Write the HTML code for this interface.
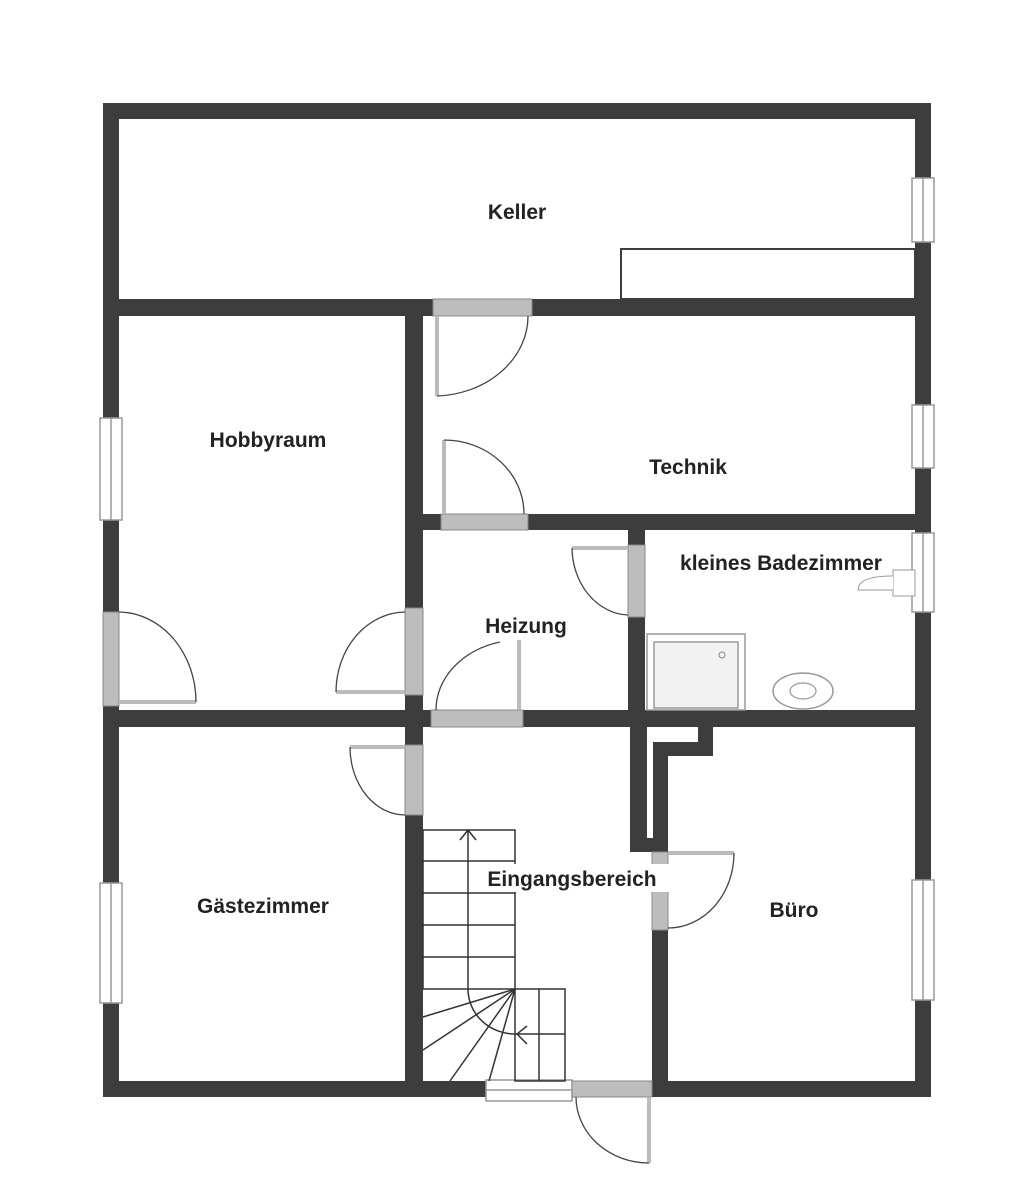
<!DOCTYPE html>
<html><head><meta charset="utf-8"><style>
html,body{margin:0;padding:0;background:#fff;}
svg{display:block;}
text{font-family:"Liberation Sans",sans-serif;font-size:21px;fill:#222;font-weight:bold;}
</style></head><body>
<svg width="1034" height="1200" viewBox="0 0 1034 1200" xmlns="http://www.w3.org/2000/svg">
<g fill="#3d3d3d">
<rect x="103" y="103" width="828" height="16"/>
<rect x="103" y="103" width="16" height="994"/>
<rect x="915" y="103" width="16" height="994"/>
<rect x="103" y="1081" width="828" height="16"/>
<rect x="103" y="299" width="828" height="17"/>
<rect x="405" y="299" width="18" height="798"/>
<rect x="405" y="514" width="526" height="16"/>
<rect x="628" y="514" width="17" height="213"/>
<rect x="103" y="710" width="828" height="17"/>
<rect x="630" y="720" width="17" height="132"/>
<rect x="630" y="838" width="38" height="14"/>
<rect x="653" y="742" width="15" height="110"/>
<rect x="653" y="742" width="60" height="14"/>
<rect x="698" y="720" width="15" height="36"/>
<rect x="652" y="838" width="16" height="259"/>
</g>
<rect x="621" y="249" width="294" height="50" fill="#fff" stroke="#3d3d3d" stroke-width="2"/>
<g fill="#fff" stroke="#999" stroke-width="1.5">
<rect x="912" y="178" width="22" height="64"/><line x1="923" y1="178" x2="923" y2="242"/>
<rect x="912" y="405" width="22" height="63"/><line x1="923" y1="405" x2="923" y2="468"/>
<rect x="912" y="533" width="22" height="79"/><line x1="923" y1="533" x2="923" y2="612"/>
<rect x="912" y="880" width="22" height="120"/><line x1="923" y1="880" x2="923" y2="1000"/>
<rect x="100" y="418" width="22" height="102"/><line x1="111" y1="418" x2="111" y2="520"/>
<rect x="100" y="883" width="22" height="120"/><line x1="111" y1="883" x2="111" y2="1003"/>
<rect x="486" y="1080" width="86" height="21"/><line x1="486" y1="1090" x2="572" y2="1090"/>
</g>
<g fill="#bdbdbd" stroke="#888" stroke-width="1">
<rect x="433" y="299" width="99" height="17"/>
<rect x="441" y="514" width="87" height="16"/>
<rect x="628" y="545" width="17" height="72"/>
<rect x="103" y="612" width="16" height="94"/>
<rect x="405" y="608" width="18" height="87"/>
<rect x="431" y="710" width="92" height="17"/>
<rect x="405" y="745" width="18" height="70"/>
<rect x="652" y="852" width="16" height="78"/>
<rect x="572" y="1081" width="80" height="16"/>
</g>
<g fill="none" stroke="#bbb" stroke-width="4">
<line x1="437" y1="316" x2="437" y2="396"/>
<line x1="444" y1="440" x2="444" y2="514"/>
<line x1="572" y1="548" x2="628" y2="548"/>
<line x1="119" y1="702" x2="196" y2="702"/>
<line x1="336" y1="692" x2="405" y2="692"/>
<line x1="519" y1="640" x2="519" y2="710"/>
<line x1="350" y1="747" x2="405" y2="747"/>
<line x1="668" y1="853" x2="734" y2="853"/>
<line x1="649" y1="1097" x2="649" y2="1163"/>
</g>
<g fill="none" stroke="#444" stroke-width="1.3">
<path d="M437 396 A95 80 0 0 0 528 316"/>
<path d="M444 440 A80 74 0 0 1 524 514"/>
<path d="M572 548 A58 68 0 0 0 628 615"/>
<path d="M119 612 A78 90 0 0 1 196 702"/>
<path d="M405 612 A70 80 0 0 0 336 692"/>
<path d="M436 710 A85 70 0 0 1 500 642"/>
<path d="M350 747 A55 68 0 0 0 405 815"/>
<path d="M734 853 A66 75 0 0 1 668 928"/>
<path d="M576 1097 A73 66 0 0 0 649 1163"/>
</g>
<g fill="none" stroke="#333" stroke-width="1.5">
<rect x="423" y="830" width="92" height="159"/>
<line x1="423" y1="861" x2="515" y2="861"/>
<line x1="423" y1="893" x2="515" y2="893"/>
<line x1="423" y1="925" x2="515" y2="925"/>
<line x1="423" y1="957" x2="515" y2="957"/>
<rect x="515" y="989" width="50" height="92"/>
<line x1="539" y1="989" x2="539" y2="1081"/>
<line x1="515" y1="1034" x2="565" y2="1034"/>
<line x1="468" y1="830" x2="468" y2="989"/>
<polyline points="460,840 468,830 476,840"/>
<line x1="515" y1="989" x2="423" y2="1017"/>
<line x1="515" y1="989" x2="423" y2="1050"/>
<line x1="515" y1="989" x2="450" y2="1081"/>
<line x1="515" y1="989" x2="489" y2="1081"/>
<path d="M468 989 A47 45 0 0 0 515 1034"/>
<polyline points="527,1026 517,1034 527,1044"/>
</g>
<rect x="647" y="634" width="98" height="76" fill="#fff" stroke="#999" stroke-width="1.5"/>
<rect x="654" y="642" width="84" height="66" fill="#f2f2f2" stroke="#999" stroke-width="1.5"/>
<circle cx="722" cy="655" r="3" fill="none" stroke="#888"/>
<ellipse cx="803" cy="691" rx="30" ry="18" fill="#fff" stroke="#999" stroke-width="1.5"/>
<ellipse cx="803" cy="691" rx="13" ry="8" fill="none" stroke="#999" stroke-width="1.2"/>
<rect x="893" y="570" width="22" height="26" fill="#fff" stroke="#999"/>
<path d="M893 576 Q858 576 858 590 L893 590" fill="#fff" stroke="#999"/>
<rect x="472" y="864" width="198" height="28" fill="#fff"/>
<text x="517" y="219" text-anchor="middle">Keller</text>
<text x="268" y="447" text-anchor="middle">Hobbyraum</text>
<text x="688" y="474" text-anchor="middle">Technik</text>
<text x="781" y="570" text-anchor="middle">kleines Badezimmer</text>
<text x="526" y="633" text-anchor="middle">Heizung</text>
<text x="572" y="886" text-anchor="middle">Eingangsbereich</text>
<text x="263" y="913" text-anchor="middle">Gästezimmer</text>
<text x="794" y="917" text-anchor="middle">Büro</text>
</svg>
</body></html>
